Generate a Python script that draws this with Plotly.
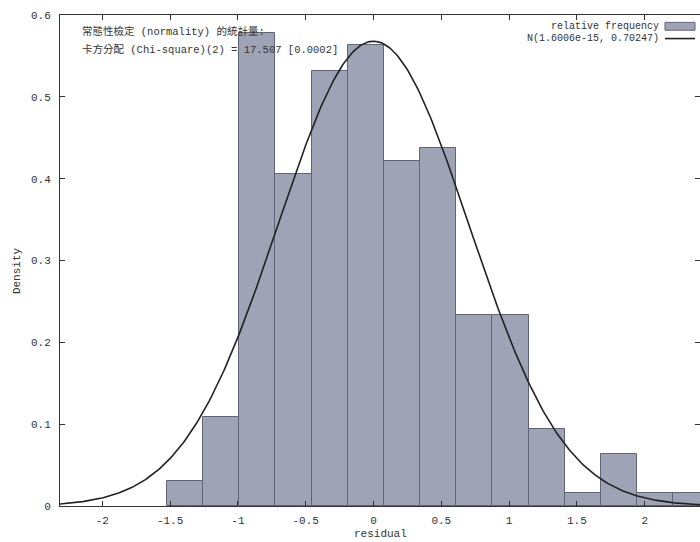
import numpy as np
import plotly.graph_objects as go

# ---- data ----
BIN_START = -1.5233
BIN_WIDTH = 0.26667
DENSITY = [0.031, 0.109, 0.578, 0.406, 0.531, 0.563, 0.422, 0.438,
           0.234, 0.234, 0.094, 0.016, 0.063, 0.016, 0.016]
MU = 1.6006e-15
SIGMA = 0.70247
X_TICKS = [-2, -1.5, -1, -0.5, 0, 0.5, 1, 1.5, 2]
X_TICKTEXT = ["-2", "-1.5", "-1", "-0.5", "0", "0.5", "1", "1.5", "2"]
Y_TICKS = [0, 0.1, 0.2, 0.3, 0.4, 0.5, 0.6]
Y_TICKTEXT = ["0", "0.1", "0.2", "0.3", "0.4", "0.5", "0.6"]
X_RANGE = [-2.312, 2.408]
X_TITLE = "residual"
Y_TITLE = "Density"
NOTE_LINE1 = "常態性檢定 (normality) 的統計量:"
NOTE_LINE2 = "卡方分配 (Chi-square)(2) = 17.507 [0.0002]"
LEG_HIST = "relative frequency"
LEG_NORM = "N(1.6006e-15, 0.70247)"

FONT = "Liberation Mono, Noto Sans CJK TC, monospace"
BAR_FILL = "#9ea4b5"
BAR_EDGE = "#5f6576"
TXT = "#333333"

centers = [BIN_START + BIN_WIDTH * (i + 0.5) for i in range(len(DENSITY))]
xs = np.linspace(X_RANGE[0], X_RANGE[1], 400)
pdf = np.exp(-0.5 * ((xs - MU) / SIGMA) ** 2) / (SIGMA * np.sqrt(2 * np.pi))

fig = go.Figure()
fig.add_trace(go.Bar(x=centers, y=DENSITY, width=BIN_WIDTH,
                     marker=dict(color=BAR_FILL, line=dict(color=BAR_EDGE, width=1)),
                     showlegend=False))
fig.add_trace(go.Scatter(x=xs, y=pdf, mode="lines",
                         line=dict(color="#222222", width=1.6), showlegend=False))

fig.update_layout(
    width=700, height=542,
    margin=dict(l=60, r=0, t=15, b=36, autoexpand=False),
    paper_bgcolor="white", plot_bgcolor="white",
    font=dict(family=FONT, size=11, color=TXT),
    bargap=0,
    xaxis=dict(range=X_RANGE, tickvals=X_TICKS, ticktext=X_TICKTEXT,
               ticks="inside", ticklen=5, tickcolor="#333", showline=True,
               linecolor="#333", linewidth=1, mirror="ticks", showgrid=False,
               zeroline=False, ticklabelstandoff=4, automargin=False),
    yaxis=dict(range=[0, 0.6], tickvals=Y_TICKS, ticktext=Y_TICKTEXT,
               ticks="inside", ticklen=5, tickcolor="#333", showline=True,
               linecolor="#333", linewidth=1, mirror="ticks", showgrid=False,
               zeroline=False, ticklabelstandoff=6, automargin=False),
)

# axis titles
fig.add_annotation(xref="paper", yref="paper", x=0.5, y=-0.058,
                   text=X_TITLE, showarrow=False, xanchor="center", yanchor="middle",
                   font=dict(size=11, color=TXT))
fig.add_annotation(xref="paper", yref="paper", x=-0.066, y=0.48,
                   text=Y_TITLE, showarrow=False, textangle=-90,
                   xanchor="center", yanchor="middle", font=dict(size=11, color=TXT))

fig.add_annotation(xref="paper", yref="paper", x=0.031, y=0.966,
                   text=NOTE_LINE1, showarrow=False, xanchor="left", yanchor="middle",
                   font=dict(size=10.5, color=TXT))
fig.add_annotation(xref="paper", yref="paper", x=0.031, y=0.929,
                   text=NOTE_LINE2, showarrow=False, xanchor="left", yanchor="middle",
                   font=dict(size=10.5, color=TXT))

# legend (key) at top right
fig.add_annotation(xref="paper", yref="paper", x=0.939, y=0.977,
                   text=LEG_HIST, showarrow=False, xanchor="right", yanchor="middle",
                   font=dict(size=10, color=TXT))
fig.add_annotation(xref="paper", yref="paper", x=0.939, y=0.952,
                   text=LEG_NORM, showarrow=False, xanchor="right", yanchor="middle",
                   font=dict(size=10, color=TXT))
fig.add_shape(type="rect", xref="paper", yref="paper", x0=0.9453, x1=0.9922,
              y0=0.969, y1=0.985, fillcolor=BAR_FILL, line=dict(color=BAR_EDGE, width=1))
fig.add_shape(type="line", xref="paper", yref="paper", x0=0.9453, x1=0.9922,
              y0=0.952, y1=0.952, line=dict(color="#222222", width=1.6))

fig.write_html(
    "out.html",
    config={"displayModeBar": False},
    post_script=("document.documentElement.style.overflow='hidden';"
                 "document.body.style.margin='0';"
                 "document.body.style.overflow='hidden';"),
)
